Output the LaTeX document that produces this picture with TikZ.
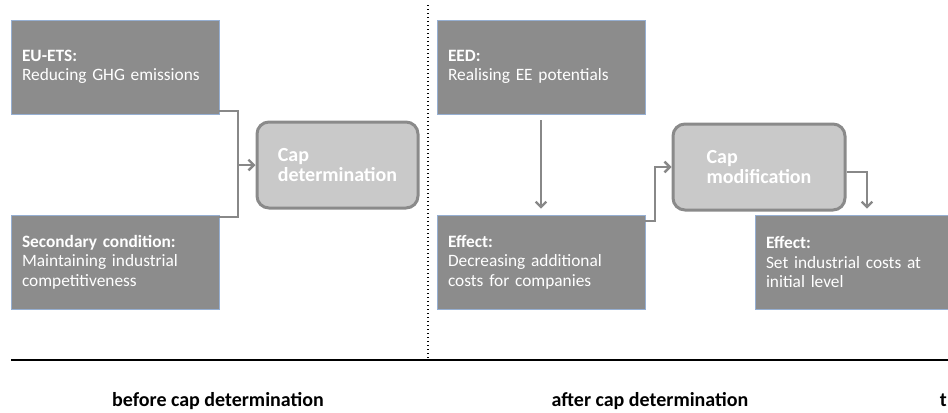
\documentclass[tikz,border=0pt]{standalone}
\usepackage{fontspec}
\setmainfont{Carlito}
\usepackage{xcolor}
\usepackage{tikz}
\usetikzlibrary{calc,positioning,arrows.meta}

\definecolor{boxgray}{RGB}{140,140,140}
\definecolor{boxedge}{RGB}{150,175,210}
\definecolor{capfill}{RGB}{201,201,201}
\definecolor{capline}{RGB}{138,138,138}
\definecolor{arrgray}{RGB}{136,136,136}

\begin{document}
\begin{tikzpicture}[x=0.75pt,y=-0.75pt]

\useasboundingbox (0,0) rectangle (948,412);

\tikzstyle{infobox} = [fill=boxgray, draw=boxedge, line width=0.5pt, rectangle, text=white, align=left, text width=139.5pt, inner xsep=8.25pt, minimum width=156pt, minimum height=70.5pt, font=\fontsize{13pt}{14.5pt}\selectfont]
\tikzstyle{capbox} = [fill=capfill, draw=capline, line width=2.25pt, rectangle, rounded corners=9pt, text=white, align=left, minimum height=64.5pt, font=\bfseries\fontsize{15pt}{15.5pt}\selectfont]
\tikzstyle{link} = [draw=arrgray, line width=1.8pt]
\tikzstyle{flow} = [link, -{Straight Barb[length=4pt,width=8pt]}]
\tikzstyle{phase} = [anchor=base, inner sep=0pt, font=\bfseries\fontsize{15pt}{15pt}\selectfont]

% before cap determination
\node (eu) [infobox] at (115,67) {\textbf{EU-ETS:}\\Reducing GHG emissions};
\node (sc) [infobox] at (115,262) {\textbf{Secondary condition:}\\Maintaining industrial\\competitiveness};
\node (cd) [capbox, minimum width=120.75pt] at (337.5,165) {Cap\\determination};

\coordinate (b1) at (238,111);
\coordinate (b2) at (238,217);
\draw [link] (eu.east |- b1) -- (b1) -- (b2) -- (sc.east |- b2);
\draw [flow] (b1 |- cd.west) -- (cd.west);

% after cap determination
\node (eed) [infobox] at (541,67) {\textbf{EED:}\\Realising EE potentials};
\node (ef1) [infobox] at (541,262) {\textbf{Effect:}\\Decreasing additional\\costs for companies};
\node (cm) [capbox, minimum width=129pt] at (759,167) {Cap\\modification};
\node (ef2) [infobox] at (859,262) {\textbf{Effect:}\\Set industrial costs at\\initial level};

\draw [flow] ([yshift=-4.5pt]eed.south) -- ([yshift=4.5pt]ef1.north);

\coordinate (b3) at (655,221);
\draw [flow] (ef1.east |- b3) -- (b3) |- (cm.west);

\coordinate (b4) at (867,172);
\draw [flow] (cm.east |- b4) -- (b4) -- ([yshift=4.5pt]b4 |- ef2.north);

% time axis
\draw [black, dotted, line width=1pt] (428,5) -- (428,359);
\draw [black, line width=1.8pt] (11,360) -- (948,360);

\node (lb1) [phase] at (218,406) {before cap determination};
\node (lb2) [phase] at (650,406) {after cap determination};
\node (lb3) [phase, anchor=base east] at (947,406) {t};

\end{tikzpicture}
\end{document}
